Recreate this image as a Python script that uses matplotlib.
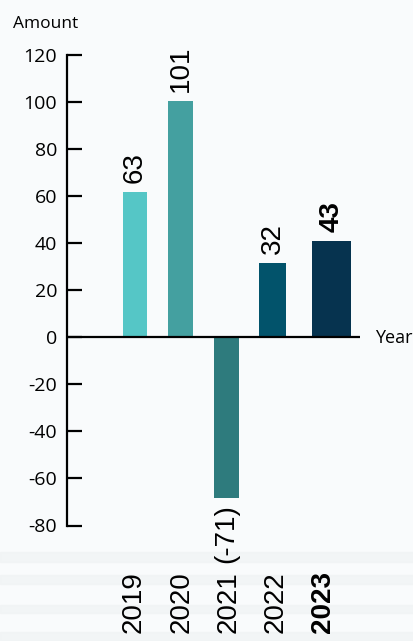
import matplotlib.pyplot as plt
from matplotlib.patches import Rectangle
from matplotlib.transforms import blended_transform_factory

plt.rcParams["axes.unicode_minus"] = False

# data
years = ["2019", "2020", "2021", "2022", "2023"]
bar_values = [61.6, 100.2, -68.4, 31.4, 40.8]      # bar heights as drawn
value_labels = ["63", "101", "(-71)", "32", "43"]   # printed labels
bar_colors = ["#55C6C6", "#44A0A0", "#2E7B7D", "#02536B", "#06334F"]
yticks = [-80, -60, -40, -20, 0, 20, 40, 60, 80, 100, 120]

# layout (category units, 2019 at 0)
bar_pos = [0, 0.98, 1.97, 2.96, 4.23]
bar_width = [0.52, 0.54, 0.54, 0.58, 0.84]
year_pos = [-0.02, 1.01, 2.02, 3.03, 4.04]

W, H = 414, 641
fig = plt.figure(figsize=(W / 100, H / 100), dpi=100)
fig.patch.set_facecolor("#F9FBFC")

# faint streaks at the bottom of the background
for y0, h in [(552, 10), (575, 9), (605, 8), (632, 9)]:
    fig.patches.append(Rectangle((0, 1 - (y0 + h) / H), 1, h / H,
                                 transform=fig.transFigure, color="#EEF1F2",
                                 alpha=0.55, zorder=-5))

ax = fig.add_axes([67 / W, 1 - 525.5 / H, (360 - 67) / W, (525.5 - 54.5) / H])
ax.set_facecolor("none")
ax.set_zorder(2)

ax.bar(bar_pos, bar_values, width=bar_width, color=bar_colors, zorder=2)
ax.axhline(0, color="black", linewidth=1.6, zorder=3)

ax.set_xlim(-1.46, 4.84)
ax.set_ylim(-80, 120)

for s in ["top", "right", "bottom"]:
    ax.spines[s].set_visible(False)
ax.spines["left"].set_linewidth(1.6)
ax.set_xticks([])
ax.set_yticks(yticks)
ax.tick_params(axis="y", direction="in", length=11, width=1.6, pad=7,
               labelsize=14)
for t in ax.get_yticklabels():
    t.set_fontfamily("Open Sans")

# value labels
for i, (x, v, lab) in enumerate(zip(bar_pos, bar_values, value_labels)):
    weight = "bold" if i == len(years) - 1 else "normal"
    if v >= 0:
        ax.annotate(lab, (x, v), xytext=(0, 6.5), textcoords="offset points",
                    rotation=90, ha="center", va="bottom", fontsize=20,
                    fontweight=weight, family="Liberation Sans")
    else:
        ax.annotate(lab, (x, v), xytext=(0, -4), textcoords="offset points",
                    rotation=90, ha="center", va="top", fontsize=20,
                    fontweight=weight, family="Liberation Sans")

# year labels under the axis
trans = blended_transform_factory(ax.transData, fig.transFigure)
for i, (x, yr) in enumerate(zip(year_pos, years)):
    weight = "bold" if i == len(years) - 1 else "normal"
    ax.text(x, 1 - 571 / H, yr, transform=trans, rotation=90, ha="center",
            va="top", fontsize=20, fontweight=weight, family="Liberation Sans",
            clip_on=False)

fig.text(13 / W, 1 - 24 / H, "Amount", ha="left", va="center", fontsize=12.5,
         family="Open Sans")
fig.text(375 / W, 1 - 338 / H, "Year", ha="left", va="center", fontsize=13,
         family="Open Sans")

fig.savefig("out.png", dpi=100, facecolor=fig.get_facecolor())
